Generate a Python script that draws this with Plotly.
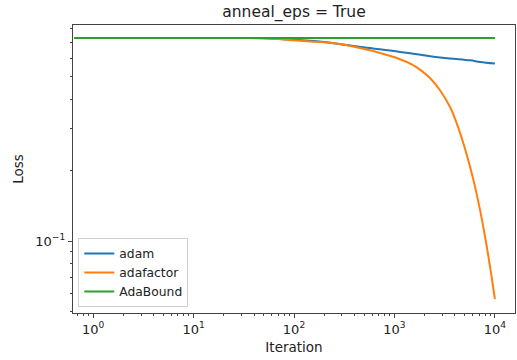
import plotly.graph_objects as go

# Data
adam_iter = [0.65, 1, 3, 10, 30, 50, 99, 146, 230, 492, 1069, 2270, 3585, 5662, 7116, 10000]
adam_loss = [0.731, 0.731, 0.731, 0.731, 0.730, 0.729, 0.719, 0.711, 0.698, 0.667, 0.640, 0.611, 0.598, 0.587, 0.578, 0.569]

adafactor_iter = [0.65, 1, 3, 10, 30, 50, 99, 146, 230, 492, 725, 1069, 1438, 1807, 2270, 2853, 3585,
                  4178, 4860, 5662, 6347, 7116, 7977, 8943, 10000]
adafactor_loss = [0.731, 0.731, 0.731, 0.731, 0.730, 0.728, 0.715, 0.706, 0.697, 0.658, 0.630, 0.599, 0.568,
                  0.535, 0.4924, 0.437, 0.371, 0.316, 0.260, 0.2066, 0.170, 0.1354, 0.1043, 0.0778, 0.0566]

adabound_iter = [0.65, 1, 10, 100, 1000, 10000]
adabound_loss = [0.731, 0.731, 0.731, 0.731, 0.731, 0.731]

x_tick_vals = [1, 10, 100, 1000, 10000]
x_tick_text = ["10<sup>0</sup>", "10<sup>1</sup>", "10<sup>2</sup>", "10<sup>3</sup>", "10<sup>4</sup>"]
y_tick_vals = [0.1]
y_tick_text = ["10<sup>\u22121</sup>"]

x_minor = [m * 10 ** d for d in range(-1, 5) for m in range(2, 10)]
y_minor = [m * 10 ** d for d in (-2, -1) for m in range(2, 10)]

colors = ["#1f77b4", "#ff7f0e", "#2ca02c"]
font = "DejaVu Sans, Arial, sans-serif"

fig = go.Figure()
for name, xs, ys, c in [
    ("adam", adam_iter, adam_loss, colors[0]),
    ("adafactor", adafactor_iter, adafactor_loss, colors[1]),
    ("AdaBound", adabound_iter, adabound_loss, colors[2]),
]:
    fig.add_trace(go.Scatter(x=xs, y=ys, mode="lines", name=name,
                             line=dict(color=c, width=2, shape="spline", smoothing=1.0)))

axis_common = dict(showline=True, mirror=True, linecolor="#444", linewidth=1.3,
                   showgrid=False, zeroline=False, ticks="outside", ticklen=4,
                   tickcolor="#444", automargin=False,
                   tickfont=dict(family=font, size=13, color="#222"))

fig.update_xaxes(type="log", range=[-0.2, 4.2], tickvals=x_tick_vals, ticktext=x_tick_text,
                 minor=dict(tickvals=x_minor, ticks="outside", ticklen=2, tickcolor="#444"),
                 title=dict(text="Iteration", font=dict(family=font, size=13.5, color="#222"), standoff=6),
                 **axis_common)
fig.update_yaxes(type="log", range=[-1.306, -0.081], tickvals=y_tick_vals, ticktext=y_tick_text,
                 minor=dict(tickvals=y_minor, ticks="outside", ticklen=2, tickcolor="#444"),
                 title=dict(text="Loss", font=dict(family=font, size=13.5, color="#222"), standoff=8),
                 **axis_common)

fig.update_layout(
    width=517, height=360,
    margin=dict(l=73, r=2, t=25, b=47, autoexpand=False),
    paper_bgcolor="white", plot_bgcolor="white",
    title=dict(text="anneal_eps = True", xref="paper", x=0.5, xanchor="center",
               yref="container", y=0.969, yanchor="middle",
               font=dict(family=font, size=15.5, color="#222")),
    legend=dict(x=0.012, y=0.021, xanchor="left", yanchor="bottom",
                bgcolor="rgba(255,255,255,0.8)", bordercolor="#d0d0d0", borderwidth=1,
                font=dict(family=font, size=12.3, color="#222"), itemwidth=30,
                entrywidth=80, tracegroupgap=0),
    showlegend=True,
)

fig.write_html("out.html", post_script="document.body.style.margin='0px';",
               config={"displayModeBar": False})
